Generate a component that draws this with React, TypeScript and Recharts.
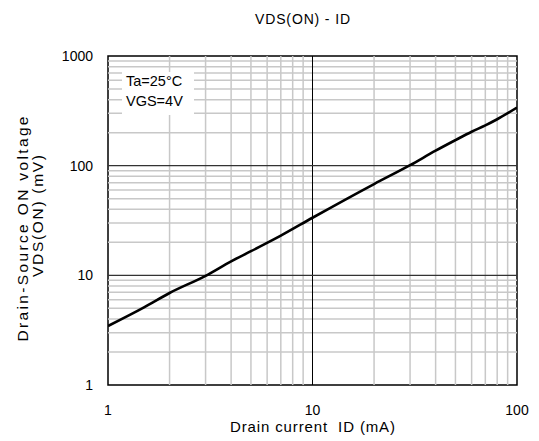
import React from 'react';
import { LineChart, Line, XAxis, YAxis, ReferenceLine, ReferenceArea } from 'recharts';

const currentMA = [1, 1.5, 2, 3, 4, 5, 7, 10, 20, 30, 40, 50, 60, 70, 80, 100];
const vdsOnMV = [3.45, 5.1, 6.9, 9.9, 13.4, 16.6, 23, 33.5, 68, 101, 137, 171, 204, 233, 265, 339];

const xTicks = [1, 10, 100];
const yTicks = [1, 10, 100, 1000];
const xMinorGrid = [2, 3, 4, 5, 6, 7, 8, 9, 20, 30, 40, 50, 60, 70, 80, 90];
const yMinorGrid = [2, 3, 4, 5, 6, 7, 8, 9, 20, 30, 40, 50, 60, 70, 80, 90, 200, 300, 400, 500, 600, 700, 800, 900];
const xMajorGrid = [10];
const yMajorGrid = [10, 100];

const titleText = 'VDS(ON) - ID';
const xLabelText = 'Drain current  ID (mA)';
const yLabelLine1 = 'Drain-Source ON voltage';
const yLabelLine2 = 'VDS(ON) (mV)';
const noteLines = ['Ta=25°C', 'VGS=4V'];

const data = currentMA.map((id, i) => ({ id, vds: vdsOnMV[i] }));

const FONT = '"Liberation Sans", Arial, sans-serif';

export default function App() {
  return (
    <div style={{ position: 'relative', width: 531, height: 433, fontFamily: FONT }}>
      <LineChart
        width={531}
        height={433}
        data={data}
        margin={{ top: 48, right: 22, bottom: 26, left: 40 }}
      >
        <XAxis
          dataKey="id"
          type="number"
          scale="log"
          domain={[1, 100]}
          ticks={xTicks}
          allowDataOverflow
          axisLine={false}
          tickLine={false}
          tickSize={0}
          tickMargin={20}
          height={30}
          tick={{ fill: '#000', fontSize: 14, fontFamily: FONT }}
          interval={0}
        />
        <YAxis
          dataKey="vds"
          type="number"
          scale="log"
          domain={[1, 1000]}
          ticks={yTicks}
          allowDataOverflow
          axisLine={false}
          tickLine={false}
          tickSize={0}
          tickMargin={15}
          width={60}
          tick={{ fill: '#000', fontSize: 14, fontFamily: FONT }}
          interval={0}
        />
        {xMinorGrid.map((v) => (
          <ReferenceLine key={'xm' + v} x={v} stroke="#c8c8c8" strokeWidth={1.5} />
        ))}
        {yMinorGrid.map((v) => (
          <ReferenceLine key={'ym' + v} y={v} stroke="#c8c8c8" strokeWidth={1.5} />
        ))}
        {xMajorGrid.map((v) => (
          <ReferenceLine key={'xM' + v} x={v} stroke="#000" strokeWidth={1} />
        ))}
        {yMajorGrid.map((v) => (
          <ReferenceLine key={'yM' + v} y={v} stroke="#333" strokeWidth={1.2} />
        ))}
        <ReferenceArea x1={1} x2={100} y1={1} y2={1000} fill="none" stroke="#000" strokeWidth={1.5} />
        <Line
          dataKey="vds"
          type="monotone"
          stroke="#000"
          strokeWidth={2.6}
          dot={false}
          isAnimationActive={false}
        />
      </LineChart>
      <svg
        width={531}
        height={433}
        style={{ position: 'absolute', left: 0, top: 0, pointerEvents: 'none', fontFamily: FONT }}
      >
        <text x={294.5} y={16} textAnchor="middle" fontSize={14} fill="#000" textLength={95} lengthAdjust="spacing">
          {titleText}
        </text>
        <text
          x={304.5}
          y={424}
          textAnchor="middle"
          fontSize={15}
          fill="#000"
          textLength={165}
          lengthAdjust="spacing"
          style={{ whiteSpace: 'pre' }}
        >
          {xLabelText}
        </text>
        <text
          transform="translate(20,221) rotate(-90)"
          textAnchor="middle"
          fontSize={15.5}
          fill="#000"
          textLength={225}
          lengthAdjust="spacing"
        >
          {yLabelLine1}
        </text>
        <text
          transform="translate(35,208) rotate(-90)"
          textAnchor="middle"
          fontSize={15.5}
          fill="#000"
          textLength={122}
          lengthAdjust="spacing"
        >
          {yLabelLine2}
        </text>
        <rect x={114} y={64} width={72} height={43} fill="#fff" />
        {noteLines.map((t, i) => (
          <text key={t} x={118} y={78 + i * 20} fontSize={14.5} fill="#000">
            {t}
          </text>
        ))}
      </svg>
    </div>
  );
}
